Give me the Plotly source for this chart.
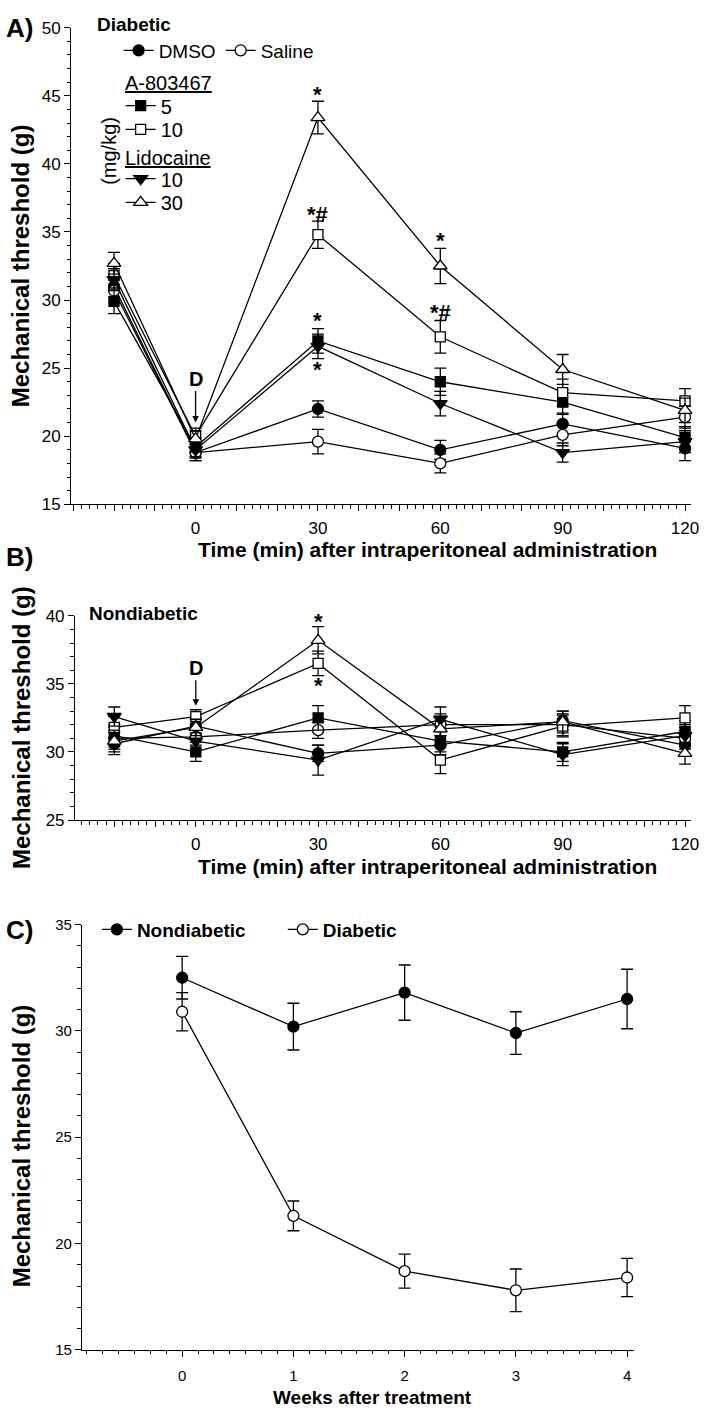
import plotly.graph_objects as go

W, H = 710, 1420

# ---------------- data ----------------
time_min = [-20, 0, 30, 60, 90, 120]
time_ticks = [-30, -20, -10, 0, 10, 20, 30, 40, 50, 60, 70, 80, 90, 100, 110, 120]
time_labels = ["", "", "", "0", "", "", "30", "", "", "60", "", "", "90", "", "", "120"]

# Panel A (diabetic)
a_dmso = [31.0, 18.8, 22.0, 19.0, 20.9, 19.1]
a_dmso_err = [0.8, 0.6, 0.6, 0.7, 0.8, 0.9]
a_saline = [30.7, 18.8, 19.6, 18.0, 20.1, 21.4]
a_saline_err = [0.9, 0.6, 0.9, 0.7, 0.8, 0.8]
a_a5 = [29.9, 19.2, 27.0, 24.0, 22.5, 19.9]
a_a5_err = [0.9, 0.7, 0.9, 1.0, 0.9, 0.8]
a_a10 = [31.8, 20.0, 34.8, 27.3, 23.2, 22.6]
a_a10_err = [0.9, 0.6, 1.0, 1.2, 1.0, 0.9]
a_l10 = [31.5, 19.0, 26.6, 22.4, 18.8, 19.6]
a_l10_err = [0.8, 0.6, 0.9, 0.9, 0.7, 0.8]
a_l30 = [32.7, 19.8, 43.4, 32.5, 24.9, 21.9]
a_l30_err = [0.8, 0.6, 1.2, 1.3, 1.1, 0.9]

# Panel B (nondiabetic)
b_dmso = [30.6, 31.9, 29.9, 30.5, 32.3, 30.5]
b_dmso_err = [0.8, 0.6, 0.6, 0.7, 0.7, 0.8]
b_saline = [31.0, 31.1, 31.6, 32.0, 32.0, 31.0]
b_saline_err = [0.8, 0.6, 0.6, 0.8, 0.8, 0.8]
b_a5 = [31.2, 30.0, 32.5, 30.8, 30.0, 31.5]
b_a5_err = [0.8, 0.7, 0.9, 0.8, 0.7, 0.8]
b_a10 = [31.8, 32.6, 36.5, 29.4, 31.9, 32.5]
b_a10_err = [0.8, 0.5, 0.9, 1.0, 0.8, 0.9]
b_l10 = [32.6, 30.8, 29.4, 32.4, 29.8, 31.2]
b_l10_err = [0.7, 0.6, 1.1, 0.9, 0.8, 0.8]
b_l30 = [30.8, 31.8, 38.2, 31.7, 32.2, 29.9]
b_l30_err = [0.8, 0.6, 1.0, 0.9, 0.8, 0.8]

# Panel C (weekly)
weeks = [0, 1, 2, 3, 4]
c_nondiab = [32.5, 30.2, 31.8, 29.9, 31.5]
c_nondiab_err = [1.0, 1.1, 1.3, 1.0, 1.4]
c_diab = [30.9, 21.3, 18.7, 17.8, 18.4]
c_diab_err = [0.9, 0.7, 0.8, 1.0, 0.9]

# significance marks: (x, y, text)
a_marks_x = [30, 30, 30, 30, 60, 60]
a_marks_y = [45.1, 36.3, 28.5, 24.9, 34.4, 29.1]
a_marks_t = ["*", "*#", "*", "*", "*", "*#"]
b_marks_x = [30, 30]
b_marks_y = [39.6, 34.9]
b_marks_t = ["*", "*"]

FONT = "Liberation Sans, Arial, sans-serif"


def fx(px):
    return px / W


def fy(py):
    return 1 - py / H


fig = go.Figure()


def add_series(x, y, err, name, symbol, filled, xa, ya, legend=None, size=10):
    fig.add_trace(go.Scatter(
        x=x, y=y, name=name, mode="lines+markers",
        xaxis=xa, yaxis=ya, cliponaxis=False,
        line=dict(color="black", width=1.3),
        marker=dict(symbol=symbol, size=size,
                    color="black" if filled else "white",
                    line=dict(color="black", width=1.3)),
        error_y=dict(type="data", array=err, color="black", thickness=1.3, width=6),
        showlegend=legend is not None,
        legend=legend if legend is not None else "legend",
    ))


# Panel A
add_series(time_min, a_dmso, a_dmso_err, "DMSO", "circle", True, "x", "y", "legend", 11)
add_series(time_min, a_saline, a_saline_err, "Saline", "circle", False, "x", "y", "legend", 11)
add_series(time_min, a_a5, a_a5_err, "5", "square", True, "x", "y", "legend2", 10)
add_series(time_min, a_a10, a_a10_err, "10", "square", False, "x", "y", "legend3", 10)
add_series(time_min, a_l10, a_l10_err, "10", "triangle-down", True, "x", "y", "legend4", 12)
add_series(time_min, a_l30, a_l30_err, "30", "triangle-up", False, "x", "y", "legend5", 12)

# Panel B
add_series(time_min, b_dmso, b_dmso_err, "DMSO", "circle", True, "x2", "y2", None, 11)
add_series(time_min, b_saline, b_saline_err, "Saline", "circle", False, "x2", "y2", None, 11)
add_series(time_min, b_a5, b_a5_err, "5", "square", True, "x2", "y2", None, 10)
add_series(time_min, b_a10, b_a10_err, "10", "square", False, "x2", "y2", None, 10)
add_series(time_min, b_l10, b_l10_err, "10", "triangle-down", True, "x2", "y2", None, 12)
add_series(time_min, b_l30, b_l30_err, "30", "triangle-up", False, "x2", "y2", None, 12)

# Panel C
add_series(weeks, c_nondiab, c_nondiab_err, "<b>Nondiabetic</b>", "circle", True, "x3", "y3", "legend6", 11)
add_series(weeks, c_diab, c_diab_err, "<b>Diabetic</b>", "circle", False, "x3", "y3", "legend7", 11)

ax_common = dict(showline=True, linecolor="black", linewidth=1.3, ticks="outside",
                 ticklen=6, tickwidth=1.3, tickcolor="black", showgrid=False,
                 zeroline=False, mirror=False, fixedrange=True)
minor_common = dict(ticks="outside", ticklen=3.5, tickwidth=1, tickcolor="black", showgrid=False)


def leg(px, py, size=20, orient="v"):
    return dict(x=fx(px), y=fy(py), xanchor="left", yanchor="middle", orientation=orient,
                font=dict(size=size, family=FONT, color="black"),
                bgcolor="rgba(0,0,0,0)", borderwidth=0, itemclick=False, tracegroupgap=0)


fig.update_layout(
    width=W, height=H, margin=dict(l=0, r=0, t=0, b=0),
    paper_bgcolor="white", plot_bgcolor="white",
    font=dict(family=FONT, color="black", size=17),
    xaxis=dict(**ax_common, domain=[fx(72), fx(699)], range=[-30.5, 121.5], anchor="y",
               tickmode="array", tickvals=time_ticks, ticktext=time_labels,
               ticklabelstandoff=2, tickfont=dict(size=17),
               minor=dict(**minor_common, dtick=2, tick0=0)),
    yaxis=dict(**ax_common, domain=[fy(502), fy(19)], range=[15, 50], anchor="x",
               dtick=5, tick0=0, tickfont=dict(size=17),
               minor=dict(**minor_common, dtick=1, tick0=0)),
    xaxis2=dict(**ax_common, domain=[fx(76), fx(699)], range=[-29.6, 121.5], anchor="y2",
                tickmode="array", tickvals=time_ticks, ticktext=time_labels,
                ticklabelstandoff=2, tickfont=dict(size=17),
                minor=dict(**minor_common, dtick=2, tick0=0)),
    yaxis2=dict(**ax_common, domain=[fy(822), fy(615)], range=[25, 40], anchor="x2",
                dtick=5, tick0=0, tickfont=dict(size=17),
                minor=dict(**minor_common, dtick=1, tick0=0)),
    xaxis3=dict(**ax_common, domain=[fx(83), fx(641)], range=[-0.9, 4.06], anchor="y3",
                tickmode="array", tickvals=weeks, ticktext=[str(w) for w in weeks],
                ticklabelstandoff=6, tickfont=dict(size=15),
                minor=dict(**minor_common, dtick=1 / 7, tick0=0)),
    yaxis3=dict(**ax_common, domain=[fy(1359), fy(928)], range=[15, 35], anchor="x3",
                dtick=5, tick0=0, tickfont=dict(size=15),
                minor=dict(**minor_common, dtick=1, tick0=0)),
    legend=leg(120, 42, 19, "h"),
    legend2=leg(122, 98),
    legend3=leg(122, 122),
    legend4=leg(122, 172),
    legend5=leg(122, 196),
    legend6=leg(98, 933, 19),
    legend7=leg(286, 933, 19),
)

ann = []


def text_ann(x, y, text, size, bold=False, angle=0, xanchor="center", xref="paper", yref="paper"):
    ann.append(dict(x=x, y=y, xref=xref, yref=yref, text=f"<b>{text}</b>" if bold else text,
                    showarrow=False, textangle=angle, xanchor=xanchor, yanchor="middle",
                    font=dict(size=size, family=FONT, color="black")))


# panel labels and headings
text_ann(fx(4), fy(19), "A)", 26, True, xanchor="left")
text_ann(fx(4), fy(555), "B)", 26, True, xanchor="left")
text_ann(fx(4), fy(933), "C)", 26, True, xanchor="left")
text_ann(fx(96), fy(16), "Diabetic", 19, True, xanchor="left")
text_ann(fx(88), fy(613), "Nondiabetic", 19, True, xanchor="left")
text_ann(fx(110), fy(144), "(mg/kg)", 20, False, angle=-90)
text_ann(fx(124), fy(75), "<u>A-803467</u>", 20, False, xanchor="left")
text_ann(fx(124), fy(151), "<u>Lidocaine</u>", 20, False, xanchor="left")

# axis titles
text_ann(fx(21), fy(260), "Mechanical threshold (g)", 24, True, angle=-90)
text_ann(fx(21), fy(728), "Mechanical threshold (g)", 24, True, angle=-90)
text_ann(fx(22), fy(1152), "Mechanical threshold (g)", 24, True, angle=-90)
text_ann(fx(432), fy(548), "Time (min) after intraperitoneal administration", 21, True)
text_ann(fx(432), fy(869), "Time (min) after intraperitoneal administration", 21, True)
text_ann(fx(377), fy(1407), "Weeks after treatment", 19, True)

# significance marks
for x, y, t in zip(a_marks_x, a_marks_y, a_marks_t):
    text_ann(x, y, t, 22, True, xref="x", yref="y")
for x, y, t in zip(b_marks_x, b_marks_y, b_marks_t):
    text_ann(x, y, t, 22, True, xref="x2", yref="y2")

# drug administration arrows
ann.append(dict(x=0, y=21.0, xref="x", yref="y", text="<b>D</b>", showarrow=True,
                ax=0, ay=-44, arrowhead=2, arrowsize=1, arrowwidth=1.3, arrowcolor="black",
                standoff=0, font=dict(size=20, family=FONT, color="black")))
ann.append(dict(x=0, y=33.4, xref="x2", yref="y2", text="<b>D</b>", showarrow=True,
                ax=0, ay=-38, arrowhead=2, arrowsize=1, arrowwidth=1.3, arrowcolor="black",
                standoff=0, font=dict(size=20, family=FONT, color="black")))

fig.update_layout(annotations=ann)

fig.write_html("out.html", config={"displayModeBar": False},
               post_script="document.body.style.margin='0';document.body.style.overflow='hidden';")
